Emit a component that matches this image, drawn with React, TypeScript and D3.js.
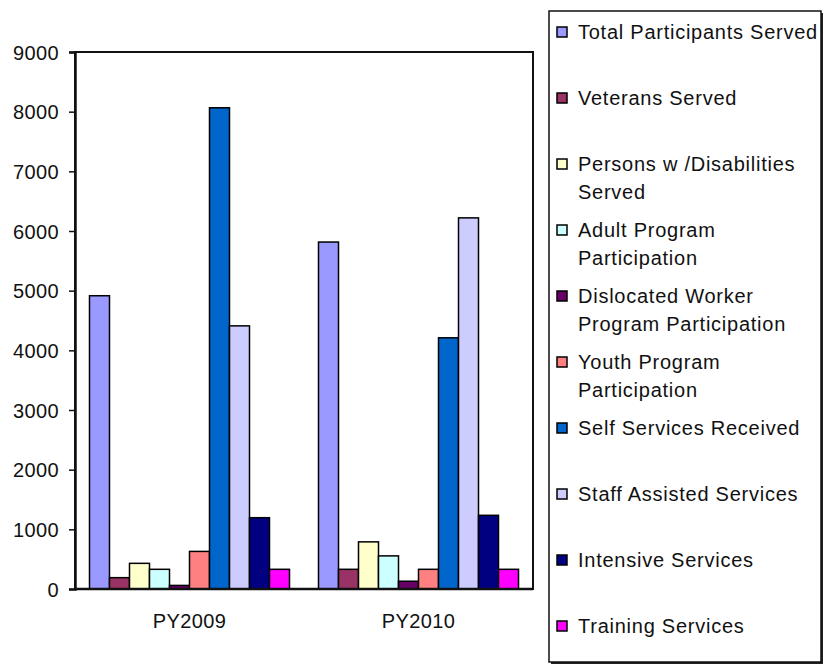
import React, { useEffect, useRef } from "react";
import * as d3 from "d3";

const categories = ["PY2009", "PY2010"];
const seriesNames = [
  "Total Participants Served",
  "Veterans Served",
  "Persons w /Disabilities Served",
  "Adult Program Participation",
  "Dislocated Worker Program Participation",
  "Youth Program Participation",
  "Self Services Received",
  "Staff Assisted Services",
  "Intensive Services",
  "Training Services",
];
// legend text as it wraps in the original
const legendLines = [
  ["Total Participants Served"],
  ["Veterans Served"],
  ["Persons w /Disabilities", "Served"],
  ["Adult Program", "Participation"],
  ["Dislocated Worker", "Program Participation"],
  ["Youth Program", "Participation"],
  ["Self Services Received"],
  ["Staff Assisted Services"],
  ["Intensive Services"],
  ["Training Services"],
];
const values2009 = [4915, 190, 430, 330, 60, 630, 8065, 4410, 1195, 330];
const values2010 = [5815, 330, 790, 555, 130, 330, 4210, 6220, 1235, 330];
const colors = [
  "#9999FF", "#993366", "#FFFFCC", "#CCFFFF", "#660066",
  "#FF8080", "#0066CC", "#CCCCFF", "#000080", "#FF00FF",
];
const yTicks = [0, 1000, 2000, 3000, 4000, 5000, 6000, 7000, 8000, 9000];

const M = { LEFT: 75, RIGHT: 533, TOP: 52, BOTTOM: 589 };
const FONT = "'Liberation Sans', Arial, sans-serif";

export default function App() {
  const ref = useRef<SVGSVGElement | null>(null);

  useEffect(() => {
    const svg = d3.select(ref.current);
    svg.selectAll("*").remove();

    const data = categories.map((c, i) => ({
      cat: c,
      vals: i === 0 ? values2009 : values2010,
    }));

    const x0 = d3
      .scaleBand()
      .domain(categories)
      .range([M.LEFT, M.RIGHT])
      .paddingInner(0.1266)
      .paddingOuter(0.0633);
    const x1 = d3
      .scaleBand()
      .domain(seriesNames)
      .range([0, x0.bandwidth()]);
    const y = d3.scaleLinear().domain([0, 9000]).range([M.BOTTOM, M.TOP]);

    // plot frame
    svg
      .append("rect")
      .attr("x", M.LEFT)
      .attr("y", M.TOP)
      .attr("width", M.RIGHT - M.LEFT)
      .attr("height", M.BOTTOM - M.TOP)
      .attr("fill", "white")
      .attr("stroke", "#111")
      .attr("stroke-width", 2);

    // bars
    const groups = svg
      .selectAll("g.grp")
      .data(data)
      .enter()
      .append("g")
      .attr("transform", (d) => `translate(${x0(d.cat)},0)`);
    groups
      .selectAll("rect")
      .data((d) => d.vals.map((v, i) => ({ v, i })))
      .enter()
      .append("rect")
      .attr("x", (d) => x1(seriesNames[d.i])!)
      .attr("y", (d) => y(d.v))
      .attr("width", x1.bandwidth())
      .attr("height", (d) => M.BOTTOM - y(d.v))
      .attr("fill", (d) => colors[d.i])
      .attr("stroke", "black")
      .attr("stroke-width", 1.5);

    // y axis
    const yAxis = d3
      .axisLeft(y)
      .tickValues(yTicks)
      .tickSize(6)
      .tickPadding(10)
      .tickFormat((d) => String(d));
    const ya = svg.append("g").attr("transform", `translate(${M.LEFT},0)`).call(yAxis);
    ya.select(".domain").attr("stroke", "#111").attr("stroke-width", 2.5);
    ya.selectAll(".tick line").attr("stroke", "#111").attr("stroke-width", 1.5);
    ya.selectAll(".tick text")
      .attr("font-family", FONT)
      .attr("font-size", 20)
      .attr("letter-spacing", 0.4)
      .attr("fill", "#111")
      .attr("dy", "0.35em");

    // x axis
    svg
      .append("line")
      .attr("x1", M.LEFT)
      .attr("x2", M.RIGHT)
      .attr("y1", M.BOTTOM)
      .attr("y2", M.BOTTOM)
      .attr("stroke", "#111")
      .attr("stroke-width", 2.5);
    svg
      .selectAll("text.xl")
      .data(categories)
      .enter()
      .append("text")
      .attr("x", (d) => x0(d)! + x0.bandwidth() / 2)
      .attr("y", 628)
      .attr("text-anchor", "middle")
      .attr("font-family", FONT)
      .attr("font-size", 20)
      .attr("letter-spacing", 0.4)
      .attr("fill", "#111")
      .text((d) => d);

    // legend
    const LX = 549, LY = 11, LW = 272, LH = 651;
    svg
      .append("rect")
      .attr("x", LX + 2)
      .attr("y", LY + 2)
      .attr("width", LW)
      .attr("height", LH)
      .attr("fill", "#222");
    svg
      .append("rect")
      .attr("x", LX)
      .attr("y", LY)
      .attr("width", LW)
      .attr("height", LH)
      .attr("fill", "white")
      .attr("stroke", "#111")
      .attr("stroke-width", 1.5);

    const items = svg
      .selectAll("g.leg")
      .data(legendLines)
      .enter()
      .append("g")
      .attr("transform", (_d, i) => `translate(${LX}, ${LY + 21 + i * 66})`);
    items
      .append("rect")
      .attr("x", 8)
      .attr("y", -5)
      .attr("width", 10)
      .attr("height", 10)
      .attr("fill", (_d, i) => colors[i])
      .attr("stroke", "black")
      .attr("stroke-width", 1.5);
    items
      .selectAll("text")
      .data((d) => d)
      .enter()
      .append("text")
      .attr("x", 29)
      .attr("y", (_d, j) => j * 28)
      .attr("dy", "0.35em")
      .attr("font-family", FONT)
      .attr("font-size", 20)
      .attr("letter-spacing", 0.75)
      .attr("fill", "#111")
      .text((d) => d);
  }, []);

  return (
    <svg
      ref={ref}
      width={824}
      height={666}
      style={{ position: "absolute", left: 0, top: 0, background: "white" }}
    />
  );
}
